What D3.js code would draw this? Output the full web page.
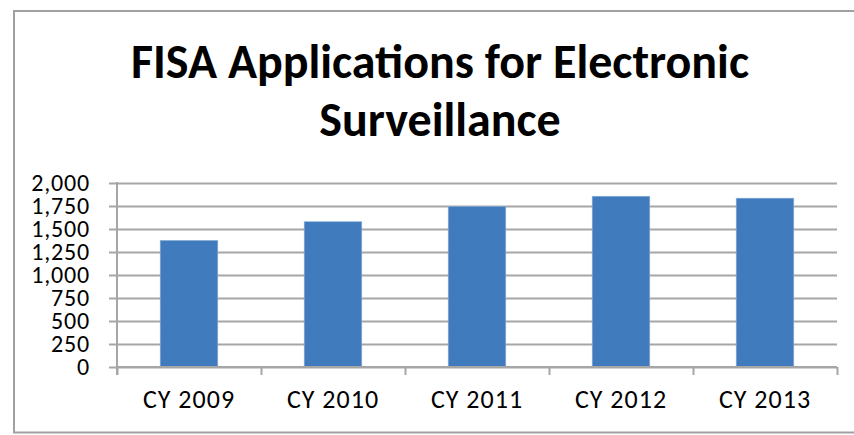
<!DOCTYPE html>
<html>
<head>
<meta charset="utf-8">
<script src="https://cdn.jsdelivr.net/npm/d3@7"></script>
<style>
  html, body { margin: 0; padding: 0; background: #ffffff; }
  svg { display: block; }
  text { font-family: Carlito, Calibri, Lato, sans-serif; fill: #000; }
</style>
</head>
<body>
<svg id="chart" width="854" height="435"></svg>
<script>
const categories = ["CY 2009", "CY 2010", "CY 2011", "CY 2012", "CY 2013"];
const values = [1376, 1579, 1745, 1856, 1835];
const yTicks = [0, 250, 500, 750, 1000, 1250, 1500, 1750, 2000];
const titleLines = ["FISA Applications for Electronic", "Surveillance"];

const svg = d3.select("#chart");
const plot = { left: 117, right: 837, top: 183, bottom: 367 };
const gridColor = "#A6A6A6";
const barColor = "#407CBD";
const fontStack = "Carlito, Calibri, Lato, sans-serif";

// outer chart border (right edge runs off the picture)
svg.append("rect")
  .attr("x", 14).attr("y", 11)
  .attr("width", 860).attr("height", 421.5)
  .attr("fill", "#fff")
  .attr("stroke", "#A0A0A0").attr("stroke-width", 2);

// title
const title = svg.append("g");
titleLines.forEach((t, i) => {
  title.append("text")
    .attr("x", 440).attr("y", 78 + i * 58)
    .attr("text-anchor", "middle")
    .attr("font-weight", "bold")
    .attr("font-size", 48)
    .text(t);
});

const x = d3.scaleBand().domain(categories)
  .range([plot.left, plot.right]).paddingInner(0.6).paddingOuter(0.3);
const y = d3.scaleLinear().domain([0, 2000]).range([plot.bottom, plot.top]);

// horizontal gridlines + y axis labels
const yAxis = d3.axisLeft(y).tickValues(yTicks)
  .tickSize(-(plot.right - plot.left)).tickPadding(27)
  .tickFormat(d3.format(","));
const gy = svg.append("g").attr("transform", `translate(${plot.left},0)`).call(yAxis);
gy.select(".domain").remove();
gy.selectAll(".tick line")
  .attr("x1", -8)
  .attr("stroke", gridColor).attr("stroke-width", 2);
gy.selectAll(".tick text")
  .attr("font-size", 24).attr("fill", "#000")
  .attr("letter-spacing", 0.8)
  .style("font-family", fontStack);

// vertical axis line
svg.append("line")
  .attr("x1", plot.left).attr("x2", plot.left)
  .attr("y1", plot.top - 1).attr("y2", plot.bottom + 8)
  .attr("stroke", gridColor).attr("stroke-width", 2);

// bars
svg.append("g").selectAll("rect")
  .data(values)
  .join("rect")
  .attr("x", (d, i) => x(categories[i]))
  .attr("width", x.bandwidth())
  .attr("y", d => y(d))
  .attr("height", d => y(0) - y(d))
  .attr("fill", barColor)
  .attr("stroke", "#8DB0DA").attr("stroke-width", 0.6);

// x axis: boundary ticks
const boundary = d3.scaleLinear().domain([0, categories.length]).range([plot.left, plot.right]);
const xTickAxis = d3.axisBottom(boundary).ticks(categories.length).tickSize(8).tickFormat("");
const gxt = svg.append("g").attr("transform", `translate(0,${plot.bottom})`).call(xTickAxis);
gxt.select(".domain").attr("stroke", gridColor).attr("stroke-width", 2).attr("d", `M${plot.left},0H${plot.right}`);
gxt.selectAll(".tick line").attr("stroke", gridColor).attr("stroke-width", 2);

// x axis: category labels
const xLabelAxis = d3.axisBottom(x).tickSize(0).tickPadding(23);
const gxl = svg.append("g").attr("transform", `translate(0,${plot.bottom})`).call(xLabelAxis);
gxl.select(".domain").remove();
gxl.selectAll(".tick text")
  .attr("font-size", 26).attr("fill", "#000")
  .attr("letter-spacing", 1)
  .style("font-family", fontStack);
</script>
</body>
</html>
